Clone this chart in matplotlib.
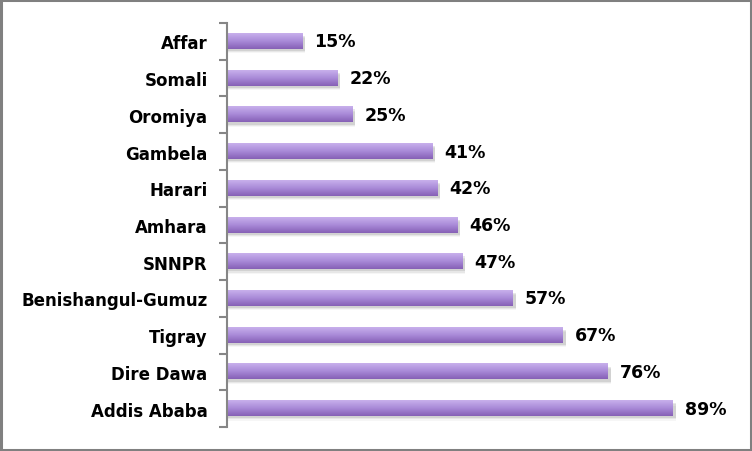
import numpy as np
import matplotlib.pyplot as plt
from matplotlib.colors import LinearSegmentedColormap
from matplotlib.patches import Rectangle

regions = ["Affar", "Somali", "Oromiya", "Gambela", "Harari", "Amhara", "SNNPR",
           "Benishangul-Gumuz", "Tigray", "Dire Dawa", "Addis Ababa"]
values = [15, 22, 25, 41, 42, 46, 47, 57, 67, 76, 89]

fig = plt.figure(figsize=(7.52, 4.52), dpi=100)
ax = fig.add_axes([227 / 752, 24 / 452, 501 / 752, 404 / 452])

n = len(regions)
ypos = np.arange(n)[::-1]  # Affar at top
bar_h = 0.41

cmap = LinearSegmentedColormap.from_list("purp", ["#c8b0ec", "#a98ad8", "#8660b6"])
grad = np.linspace(0, 1, 64).reshape(-1, 1)

for y, v in zip(ypos, values):
    # soft shadow below the bar
    for k, a in enumerate([0.09, 0.06, 0.035]):
        ax.add_patch(Rectangle((0, y - bar_h / 2 - 0.06 - k * 0.03), v + 0.6, bar_h,
                               color="black", alpha=a, lw=0, zorder=1))
    ax.imshow(grad, cmap=cmap, aspect="auto", extent=[0, v, y - bar_h / 2, y + bar_h / 2],
              origin="upper", zorder=2, interpolation="bilinear")
    ax.text(v + 2.4, y, f"{v}%", va="center", ha="left", fontsize=12.5,
            fontweight="bold", color="black")

ax.set_xlim(0, 100)
ax.set_ylim(-0.5, n - 0.5)

ax.set_yticks(ypos)
ax.set_yticklabels(regions, fontsize=12, fontweight="bold")
ax.tick_params(axis="y", which="major", length=0, pad=14)
ax.set_yticks(np.arange(-0.5, n, 1), minor=True)
ax.tick_params(axis="y", which="minor", length=6, width=1.5, color="#868686", direction="out")
ax.set_xticks([])

for s in ["top", "right", "bottom"]:
    ax.spines[s].set_visible(False)
ax.spines["left"].set_color("#868686")
ax.spines["left"].set_linewidth(1.5)

# outer border of the chart
fig.patches.append(Rectangle((0.0015, 0.0025), 0.997, 0.995, transform=fig.transFigure,
                             fill=False, edgecolor="#808080", lw=2.2))

plt.savefig("out.png", dpi=100)
